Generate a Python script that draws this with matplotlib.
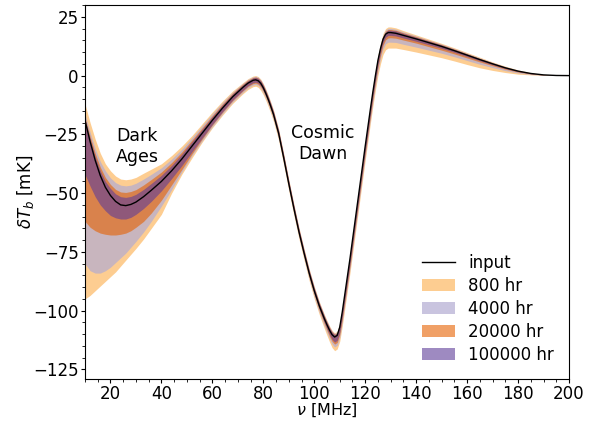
import numpy as np
import matplotlib
matplotlib.use("Agg")
import matplotlib.pyplot as plt
from matplotlib.patches import Patch
from matplotlib.lines import Line2D
from matplotlib.ticker import MultipleLocator

# frequency grid [MHz]
nu = np.array([10, 12, 14, 16, 18, 20, 22, 24, 26, 28, 30,
               33, 36, 40, 44, 48, 52, 56, 60, 64, 68,
               72, 74, 76, 77, 78, 79, 80, 81, 82, 83, 84,
               86, 88, 90, 92, 94, 96, 98, 100, 102, 104,
               105, 106, 107, 108, 109, 110, 111, 112,
               114, 116, 118, 120, 122,
               123, 124, 125, 126, 127, 128, 129, 130, 132,
               135, 140, 145, 150, 155, 160, 165, 170, 175, 180, 185, 190, 195, 200])

# input signal [mK]
t_input = np.array([-19, -28, -36, -42.5, -47.5, -51, -53.5, -55, -55.3, -54.8, -53.8,
                    -51.5, -48.8, -45, -40.5, -35.5, -30, -24.5, -19, -13.8, -9,
                    -5, -3.2, -2.0, -1.8, -2.2, -3.3, -5.2, -7.6, -10.3, -13.3, -16.5,
                    -24.5, -35, -46, -56.5, -66.5, -75.5, -84, -91.5, -98, -103.5,
                    -106, -108.3, -110.2, -111.2, -110.5, -107, -100.5, -93,
                    -78, -62, -46, -30, -14.5,
                    -7, 0, 6.5, 11.5, 15.5, 17.6, 18.3, 18.3, 18,
                    17.1, 15.6, 14, 12.4, 10.6, 8.7, 6.8, 5, 3.3, 1.9, 0.9, 0.3, 0.05, 0])

# band edges relative to the input (upper / lower), per integration time
hi_800 = np.array([7, 8, 9, 9.5, 10, 10.5, 10.8, 11, 11, 10.8, 10.5,
                   10, 9, 7.5, 6.5, 5.5, 4.5, 4, 3.5, 3, 2.5,
                   2, 1.9, 1.8, 1.8, 1.8, 1.8, 1.8, 1.8, 1.8, 1.8, 1.8,
                   1.8, 1.8, 1.8, 1.8, 1.8, 1.8, 1.8, 1.8, 1.8, 1.8,
                   1.8, 1.8, 1.8, 1.8, 1.8, 1.8, 1.8, 1.8,
                   2, 2, 2, 2, 2,
                   2, 2, 2.2, 2.3, 2.4, 2.4, 2.4, 2.4, 2.3,
                   2, 1.7, 1.5, 1.3, 1.2, 1.1, 1, 0.8, 0.7, 0.5, 0.3, 0.15, 0.05, 0])
lo_800 = np.array([-76, -65.5, -55.5, -47, -40, -34.5, -30, -26, -23.2, -21.2, -19.7,
                   -18, -16.2, -14, -9.5, -6.5, -5, -3.8, -3.2, -3, -2.8,
                   -2.7, -2.7, -2.7, -2.7, -2.8, -3, -3, -3, -3, -3, -3,
                   -3, -3, -3, -3, -3, -3, -3.2, -3.4, -3.7, -4.2,
                   -4.5, -5, -5.5, -5.8, -5.8, -6, -6, -6,
                   -6, -6, -6, -6, -6,
                   -6, -6.2, -6.3, -6.4, -6.5, -6.6, -6.6, -6.6, -6.3,
                   -6, -5.6, -5.2, -4.8, -4.4, -4, -3.5, -2.8, -2, -1.3, -0.6, -0.2, 0, 0])

hi_4000 = np.array([2.6, 4, 5, 6, 7, 7.5, 8, 8.4, 8.4, 8.2, 8,
                    7.5, 6.8, 5.8, 5, 4.2, 3.6, 3.2, 2.8, 2.4, 2,
                    1.7, 1.6, 1.5, 1.5, 1.5, 1.5, 1.5, 1.5, 1.5, 1.5, 1.5,
                    1.5, 1.5, 1.5, 1.5, 1.5, 1.5, 1.5, 1.5, 1.5, 1.5,
                    1.5, 1.5, 1.5, 1.5, 1.5, 1.5, 1.5, 1.5,
                    1.6, 1.6, 1.6, 1.6, 1.6,
                    1.6, 1.7, 1.7, 1.8, 1.8, 1.8, 1.8, 1.8, 1.7,
                    1.5, 1.3, 1.1, 1, 0.9, 0.8, 0.7, 0.6, 0.5, 0.35, 0.2, 0.1, 0.03, 0])
lo_4000 = np.array([-61, -55, -48, -41.5, -35.5, -30.5, -26, -22.5, -20.2, -18.2, -16.7,
                    -15, -13.2, -10.5, -8, -5.5, -4, -3.2, -2.7, -2.4, -2.2,
                    -2.1, -2, -2, -2, -2, -2.2, -2.2, -2.2, -2.2, -2.2, -2.2,
                    -2.2, -2.2, -2.2, -2.2, -2.2, -2.3, -2.4, -2.6, -2.8, -3.1,
                    -3.3, -3.6, -4, -4.2, -4.2, -4.4, -4.4, -4.4,
                    -4.4, -4.4, -4.4, -4.4, -4.4,
                    -4.4, -4.4, -4.4, -4.3, -4.2, -4.1, -4.1, -4.1, -3.9,
                    -3.8, -3.5, -3.2, -2.9, -2.6, -2.3, -2, -1.6, -1.2, -0.8, -0.4, -0.15, 0, 0])

hi_20000 = np.array([1.3, 2.2, 3, 3.6, 4.2, 4.7, 5.1, 5.5, 5.6, 5.5, 5.3,
                     5, 4.6, 4, 3.5, 3, 2.6, 2.3, 2, 1.8, 1.6,
                     1.4, 1.3, 1.2, 1.2, 1.2, 1.2, 1.2, 1.2, 1.2, 1.2, 1.2,
                     1.2, 1.2, 1.2, 1.2, 1.2, 1.2, 1.2, 1.2, 1.2, 1.2,
                     1.2, 1.2, 1.2, 1.2, 1.2, 1.2, 1.2, 1.2,
                     1.3, 1.3, 1.3, 1.3, 1.3,
                     1.3, 1.3, 1.3, 1.3, 1.3, 1.3, 1.3, 1.3, 1.3,
                     1.1, 1, 0.9, 0.8, 0.7, 0.6, 0.5, 0.4, 0.3, 0.2, 0.1, 0.05, 0.02, 0])
lo_20000 = np.array([-43, -36.5, -30, -24.5, -20, -16.8, -14.3, -12.5, -11.7, -11.2, -10.7,
                     -10.5, -9.7, -8, -6, -4.5, -3.3, -2.5, -2, -1.8, -1.6,
                     -1.5, -1.4, -1.4, -1.4, -1.5, -1.5, -1.5, -1.5, -1.5, -1.5, -1.5,
                     -1.5, -1.5, -1.5, -1.5, -1.5, -1.5, -1.6, -1.7, -1.9, -2.1,
                     -2.3, -2.6, -2.8, -3, -3, -3.2, -3.2, -3.2,
                     -3.2, -3.2, -3.2, -3.2, -3.2,
                     -3.1, -3, -2.9, -2.8, -2.6, -2.4, -2.3, -2.2, -2.1,
                     -2, -1.8, -1.7, -1.6, -1.4, -1.2, -1, -0.8, -0.6, -0.4, -0.2, -0.08, 0, 0])

hi_100000 = np.array([0.5, 1, 1.5, 2, 2.5, 3, 3.2, 3.5, 3.5, 3.4, 3.3,
                      3.1, 2.9, 2.6, 2.3, 2.1, 1.9, 1.7, 1.5, 1.3, 1.2,
                      1.1, 1, 1, 1, 1, 1, 1, 1, 1, 1, 1,
                      1, 1, 1, 1, 1, 1, 1, 1, 1, 1,
                      1, 1, 1, 1, 1, 1, 1, 1,
                      1, 1, 1, 1, 1,
                      1, 1, 1, 1, 1, 1, 1, 1, 1,
                      0.8, 0.7, 0.65, 0.6, 0.5, 0.45, 0.4, 0.3, 0.2, 0.15, 0.08, 0.03, 0.01, 0])
lo_100000 = np.array([-23, -19, -15.5, -12.5, -10, -8.5, -7, -6, -5.7, -5.5, -5.2,
                      -5, -4.7, -4, -3.3, -2.8, -2.4, -2, -1.7, -1.5, -1.3,
                      -1.2, -1.1, -1, -1, -1, -1, -1, -1, -1, -1, -1,
                      -1, -1, -1, -1, -1, -1.1, -1.1, -1.2, -1.3, -1.5,
                      -1.6, -1.8, -2, -2.1, -2.1, -2.2, -2.2, -2.2,
                      -2.2, -2.2, -2.2, -2.2, -2.2,
                      -2.1, -2, -1.8, -1.6, -1.4, -1.3, -1.2, -1.2, -1.15,
                      -1.1, -1, -0.9, -0.8, -0.7, -0.6, -0.5, -0.4, -0.3, -0.2, -0.1, -0.04, 0, 0])

labels = ["800 hr", "4000 hr", "20000 hr", "100000 hr"]
colors = ["#fdb863", "#b2abd2", "#e66101", "#5e3c99"]
alphas = [0.7, 0.7, 0.6, 0.6]

bands = [(lo_800, hi_800), (lo_4000, hi_4000), (lo_20000, hi_20000), (lo_100000, hi_100000)]

fig = plt.figure(figsize=(5.91, 4.21), dpi=100)
ax = fig.add_axes([0.1438, 0.1, 0.819, 0.888])

for (lo, hi), c, a in zip(bands, colors, alphas):
    ax.fill_between(nu, t_input + lo, t_input + hi, color=c, alpha=a, lw=0)
ax.plot(nu, t_input, color="k", lw=1)

ax.text(30.5, -30, "Dark\nAges", ha="center", va="center", fontsize=12.5)
ax.text(103.5, -29, "Cosmic\nDawn", ha="center", va="center", fontsize=12.5)

ax.set_xlim(10, 200)
ax.set_ylim(-129, 30)
ax.xaxis.set_major_locator(MultipleLocator(20))
ax.xaxis.set_minor_locator(MultipleLocator(5))
ax.yaxis.set_major_locator(MultipleLocator(25))
ax.yaxis.set_minor_locator(MultipleLocator(5))
ax.tick_params(which="both", labelsize=12, top=False, right=False, pad=1.5)
ax.tick_params(which="major", length=3)
ax.tick_params(which="minor", length=2)
ax.set_xlabel(r"$\nu$ [MHz]", fontsize=11.5, labelpad=-1)
ax.set_ylabel(r"$\delta T_b$ [mK]", fontsize=12, labelpad=-2)

handles = [Line2D([], [], color="k", lw=1)] + \
    [Patch(color=c, alpha=a, lw=0) for c, a in zip(colors, alphas)]
ax.legend(handles, ["input"] + labels, loc="lower right", frameon=False, fontsize=12,
          labelspacing=0.3, bbox_to_anchor=(1.0, 0.0))

fig.savefig("out.png", dpi=100)
